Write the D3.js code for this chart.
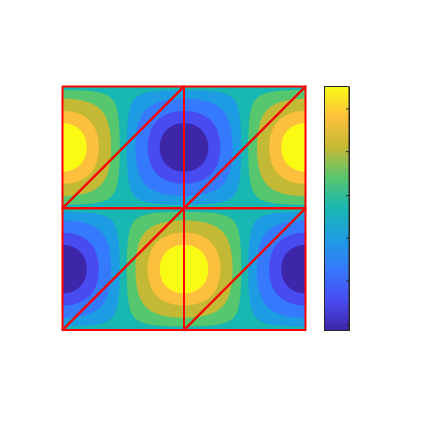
<!DOCTYPE html>
<html lang="en">
<head>
    <meta charset="UTF-8">
    <title>Filled contour on triangular mesh</title>
    <script src="https://d3js.org/d3.v7.min.js"></script>
    <style>body { margin: 0; background: #fff; }</style>
</head>
<body>
    <svg id="chart" width="433" height="433"></svg>

    <script>
        // domain of the field and the mesh drawn over it
        const xDomain = [0, 2];
        const yDomain = [0, 2];
        const meshNodes = [[0, 0], [1, 0], [2, 0], [0, 1], [1, 1], [2, 1], [0, 2], [1, 2], [2, 2]];
        const meshTriangles = [[0, 1, 4], [0, 4, 3], [1, 2, 5], [1, 5, 4], [3, 4, 7], [3, 7, 6], [4, 5, 8], [4, 8, 7]];

        // contour levels and colorbar
        const levels = [-0.81, -0.59, -0.31, -0.09, 0.09, 0.31, 0.59, 0.81];
        const valueRange = [-1, 1];
        const cbTicks = [-0.95, -0.59, -0.24, 0.11, 0.47, 0.82];
        const parula = ["#3e26a8", "#484cf0", "#3579fd", "#1e9ce3", "#18b7b2", "#56c66f", "#c4b935", "#fcc03c", "#f9fb15"];

        function field(x, y) {
            return -Math.cos(Math.PI * x) * Math.sin(Math.PI * y);
        }

        const svg = d3.select("#chart");

        const x = d3.scaleLinear().domain(xDomain).range([62.5, 305.5]);
        const y = d3.scaleLinear().domain(yDomain).range([330, 86.5]);

        // sample the field on a grid, one cell per pixel
        const n = 243;
        const values = new Array(n * n);
        for (let j = 0; j < n; j++) {
            for (let i = 0; i < n; i++) {
                const gx = xDomain[0] + (i + 0.5) / n * (xDomain[1] - xDomain[0]);
                const gy = yDomain[1] - (j + 0.5) / n * (yDomain[1] - yDomain[0]);
                values[i + j * n] = field(gx, gy);
            }
        }

        // grid coords -> data coords -> pixels
        const gridToData = {
            x: d3.scaleLinear().domain([0, n]).range(xDomain),
            y: d3.scaleLinear().domain([0, n]).range([yDomain[1], yDomain[0]])
        };
        const projection = d3.geoTransform({
            point: function (px, py) {
                this.stream.point(x(gridToData.x(px)), y(gridToData.y(py)));
            }
        });
        const path = d3.geoPath(projection);

        const bandColor = d3.scaleThreshold().domain(levels).range(parula);

        const contours = d3.contours().size([n, n]).thresholds(levels)(values);

        const plot = svg.append("g");

        // lowest band as background
        plot.append("rect")
            .attr("x", x(xDomain[0]))
            .attr("y", y(yDomain[1]))
            .attr("width", x(xDomain[1]) - x(xDomain[0]))
            .attr("height", y(yDomain[0]) - y(yDomain[1]))
            .attr("fill", parula[0]);

        plot.selectAll("path.band")
            .data(contours)
            .enter()
            .append("path")
            .attr("class", "band")
            .attr("d", path)
            .attr("fill", d => bandColor(d.value));

        // triangular mesh
        const line = d3.line()
            .x(d => x(d[0]))
            .y(d => y(d[1]))
            .curve(d3.curveLinearClosed);

        plot.selectAll("path.tri")
            .data(meshTriangles)
            .enter()
            .append("path")
            .attr("class", "tri")
            .attr("d", t => line(t.map(k => meshNodes[k])))
            .attr("fill", "none")
            .attr("stroke", "#ff0000")
            .attr("stroke-width", 2)
            .attr("stroke-linejoin", "round");

        // colorbar
        const cbX = 324.5, cbW = 24.5;
        const cbScale = d3.scaleLinear().domain(valueRange).range([330.5, 86.5]);

        const grad = svg.append("defs").append("linearGradient")
            .attr("id", "cbgrad")
            .attr("x1", 0).attr("y1", 1)
            .attr("x2", 0).attr("y2", 0);
        grad.selectAll("stop")
            .data(parula)
            .enter()
            .append("stop")
            .attr("offset", (d, i) => i / (parula.length - 1))
            .attr("stop-color", d => d);

        svg.append("rect")
            .attr("x", cbX)
            .attr("y", cbScale(valueRange[1]))
            .attr("width", cbW)
            .attr("height", cbScale(valueRange[0]) - cbScale(valueRange[1]))
            .attr("fill", "url(#cbgrad)")
            .attr("stroke", "#262626")
            .attr("stroke-width", 1);

        const cbAxis = svg.append("g")
            .attr("transform", "translate(" + (cbX + cbW) + ",0)")
            .call(d3.axisLeft(cbScale).tickValues(cbTicks).tickSize(3).tickSizeOuter(0).tickFormat(""));
        cbAxis.select(".domain").attr("stroke", "#262626");
        cbAxis.selectAll(".tick line").attr("stroke", "#262626");
    </script>
</body>
</html>
